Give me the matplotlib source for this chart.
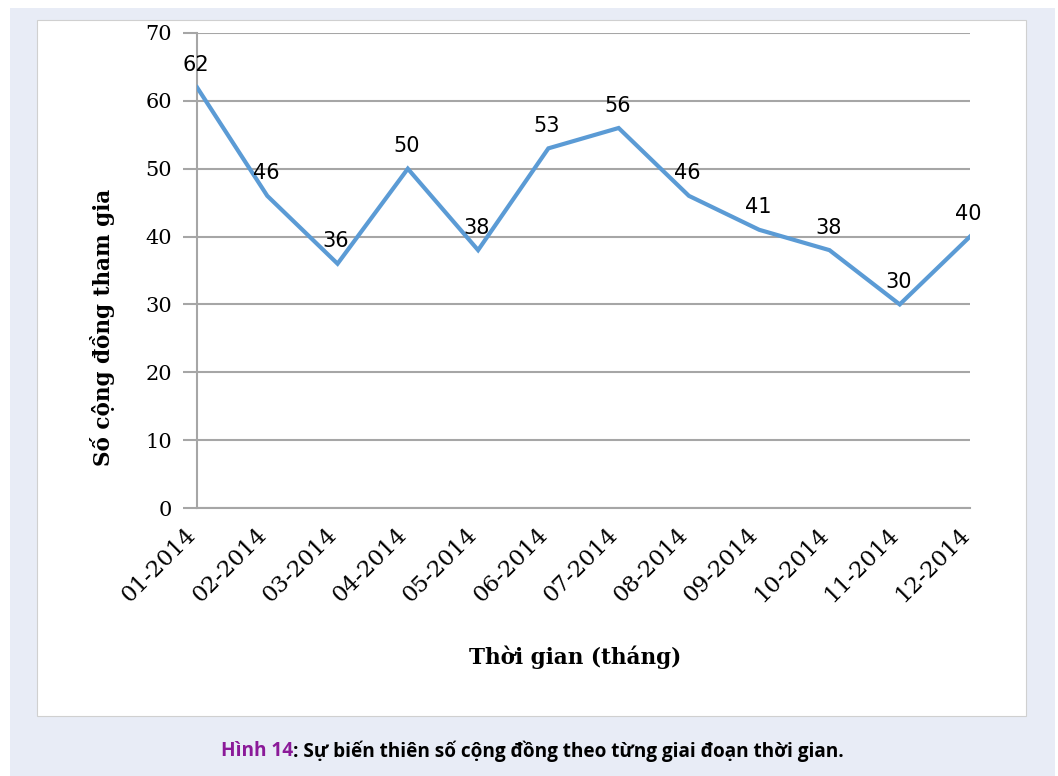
import numpy as np
import matplotlib.pyplot as plt
from matplotlib.patches import Rectangle

months = ['01-2014', '02-2014', '03-2014', '04-2014', '05-2014', '06-2014',
          '07-2014', '08-2014', '09-2014', '10-2014', '11-2014', '12-2014']
counts = [62, 46, 36, 50, 38, 53, 56, 46, 41, 38, 30, 40]
y_ticks = [0, 10, 20, 30, 40, 50, 60, 70]

LINE_COLOR = '#5b9bd5'
GRID_COLOR = '#a6a6a6'

fig = plt.figure(figsize=(10.58, 7.76), dpi=100)
fig.patch.set_facecolor('white')

# lavender frame and white panel
fig.patches.append(Rectangle((10/1058, 0), 1045/1058, 1 - 8/776,
                             transform=fig.transFigure, facecolor='#e8ecf6',
                             edgecolor='none', zorder=-2))
fig.patches.append(Rectangle((37/1058, 1 - 716/776), 989/1058, (716 - 20)/776,
                             transform=fig.transFigure, facecolor='white',
                             edgecolor='#d0d0d0', lw=0.8, zorder=-1))

ax = fig.add_axes([197/1058, 1 - 508/776, (970 - 197)/1058, (508 - 33)/776])
ax.set_facecolor('none')

x = np.arange(len(months))
ax.plot(x, counts, color=LINE_COLOR, lw=3.0, solid_joinstyle='miter', zorder=3)

for xi, v in zip(x, counts):
    ax.annotate(str(v), (xi, v), xytext=(-1, 9), textcoords='offset points',
                ha='center', va='bottom', fontsize=15, family='DejaVu Sans',
                color='black', zorder=4)

ax.set_xlim(0, len(months) - 1)
ax.set_ylim(0, 70)
ax.set_yticks(y_ticks)
ax.set_xticks(x)
ax.set_xticklabels(months, rotation=45, ha='right', va='baseline',
                   rotation_mode='anchor', family='DejaVu Serif', fontsize=16.5)
for lbl in ax.get_yticklabels():
    lbl.set_family('DejaVu Serif')
    lbl.set_fontsize(15)

ax.grid(axis='y', color=GRID_COLOR, lw=1.5)
ax.set_axisbelow(True)
for s in ['top', 'right']:
    ax.spines[s].set_visible(False)
ax.spines['left'].set_color(GRID_COLOR)
ax.spines['left'].set_linewidth(1.5)
ax.spines['bottom'].set_color(GRID_COLOR)
ax.spines['bottom'].set_linewidth(1.5)
ax.tick_params(axis='y', length=10, width=1.5, color=GRID_COLOR, pad=8)
ax.tick_params(axis='x', length=0, pad=20)

ax.set_xlabel('Thời gian (tháng)', family='DejaVu Serif', fontweight='bold',
              fontsize=15.5, va='center')
ax.xaxis.set_label_coords((575 - 197)/773, (508 - 657)/475)
ax.set_ylabel('Số cộng đồng tham gia', family='DejaVu Serif', fontweight='bold',
              fontsize=15.5, va='center')
ax.yaxis.set_label_coords((103 - 197)/773, (508 - 327)/475)

cap_y = 1 - 751/776
t1 = fig.text(221/1058, cap_y, 'Hình 14', ha='left', va='center',
              fontsize=13.7, fontweight='bold', family='Open Sans', color='#8b1a99')
fig.canvas.draw()
bb = t1.get_window_extent()
fig.text(bb.x1/1058, cap_y, ': Sự biến thiên số cộng đồng theo từng giai đoạn thời gian.',
         ha='left', va='center', fontsize=13.7, fontweight='bold', family='Open Sans',
         color='black')

fig.savefig('out.png', dpi=100)
